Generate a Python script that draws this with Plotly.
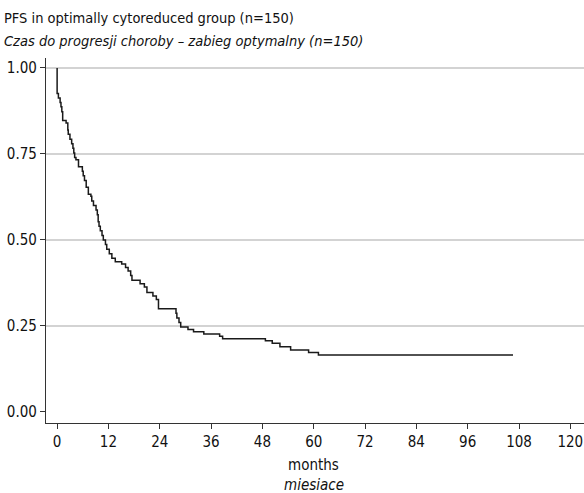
import plotly.graph_objects as go

# Kaplan-Meier step curve
months = [0, 0, 0.3, 0.7, 0.9, 1.1, 1.3, 2.1, 2.5, 2.6, 3.0, 3.4, 3.7, 3.9, 4.1, 4.4,
          5.0, 5.9, 6.1, 6.4, 6.8, 7.3, 7.9, 8.1, 8.5, 9.1, 9.4, 9.6, 9.8, 10.1,
          10.5, 10.8, 11.3, 11.6, 12.2, 12.8, 13.6, 15.1, 16.0, 16.6, 17.2, 17.5,
          19.4, 20.4, 21.0, 22.4, 23.2, 23.7, 27.8, 28.0, 28.5, 28.9, 30.6, 31.9,
          34.3, 38.0, 38.7, 48.7, 50.3, 52.1, 54.6, 58.8, 61.1, 106.6]
survival = [1.0, 0.926, 0.913, 0.900, 0.887, 0.873, 0.847, 0.840, 0.820, 0.807, 0.793,
            0.780, 0.767, 0.753, 0.740, 0.733, 0.713, 0.700, 0.687, 0.673, 0.653,
            0.633, 0.627, 0.613, 0.600, 0.587, 0.573, 0.553, 0.540, 0.527, 0.513,
            0.500, 0.487, 0.473, 0.460, 0.447, 0.437, 0.430, 0.420, 0.410, 0.397,
            0.383, 0.373, 0.363, 0.347, 0.337, 0.327, 0.300, 0.287, 0.273, 0.260,
            0.247, 0.240, 0.233, 0.227, 0.220, 0.213, 0.207, 0.200, 0.190, 0.180,
            0.173, 0.166, 0.166]

x_ticks = [0, 12, 24, 36, 48, 60, 72, 84, 96, 108, 120]
y_ticks = [0.0, 0.25, 0.5, 0.75, 1.0]
y_tick_labels = ["0.00", "0.25", "0.50", "0.75", "1.00"]

title_en = "PFS in optimally cytoreduced group (n=150)"
title_pl = "Czas do progresji choroby – zabieg optymalny (n=150)"
xlabel_en = "months"
xlabel_pl = "miesiace"

FONT = "DejaVu Sans Condensed, Liberation Sans Narrow, sans-serif"

fig = go.Figure()
fig.add_trace(go.Scatter(
    x=months, y=survival, mode="lines", line_shape="hv",
    line=dict(color="#1a1a1a", width=1.5), hoverinfo="skip", showlegend=False,
))

fig.update_layout(
    width=584, height=493,
    margin=dict(l=46, r=0, t=58, b=70, autoexpand=False),
    paper_bgcolor="white", plot_bgcolor="white",
    font=dict(family=FONT, size=14, color="#111"),
    xaxis=dict(
        range=[-2.6, 123.2], tickmode="array", tickvals=x_ticks,
        ticks="outside", ticklen=5, tickwidth=1, tickcolor="#333",
        showline=True, linecolor="#333", linewidth=1.2,
        showgrid=False, zeroline=False, automargin=False,
        tickfont=dict(family=FONT, size=15, color="#111"),
    ),
    yaxis=dict(
        range=[-0.032, 1.029], tickmode="array", tickvals=y_ticks,
        ticktext=y_tick_labels,
        ticks="outside", ticklen=5, tickwidth=1, tickcolor="#333",
        showline=True, linecolor="#333", linewidth=1.2,
        showgrid=False, zeroline=False, automargin=False,
        tickfont=dict(family=FONT, size=15, color="#111"),
    ),
)

# gridlines at 0.25..1.00 (none at 0)
for yv in y_ticks[1:]:
    fig.add_shape(type="line", xref="paper", x0=0, x1=1, yref="y", y0=yv, y1=yv,
                  line=dict(color="#a8a8a8", width=1.2), layer="below")

fig.add_annotation(text=title_en, xref="paper", x=0, xanchor="left", xshift=-44,
                   yref="paper", y=1, yanchor="middle", yshift=40, showarrow=False,
                   font=dict(family=FONT, size=14.5, color="#111"))
fig.add_annotation(text="<i>" + title_pl + "</i>", xref="paper", x=0, xanchor="left", xshift=-44,
                   yref="paper", y=1, yanchor="middle", yshift=17, showarrow=False,
                   font=dict(family=FONT, size=14.5, color="#111"))
fig.add_annotation(text=xlabel_en, xref="x", x=60, xanchor="center",
                   yref="paper", y=0, yanchor="middle", yshift=-42, showarrow=False,
                   font=dict(family=FONT, size=15, color="#111"))
fig.add_annotation(text="<i>" + xlabel_pl + "</i>", xref="x", x=60, xanchor="center",
                   yref="paper", y=0, yanchor="middle", yshift=-62, showarrow=False,
                   font=dict(family=FONT, size=15, color="#111"))

fig.write_html("out.html", config={"displayModeBar": False},
               post_script="document.body.style.margin='0';document.body.style.padding='0';")
